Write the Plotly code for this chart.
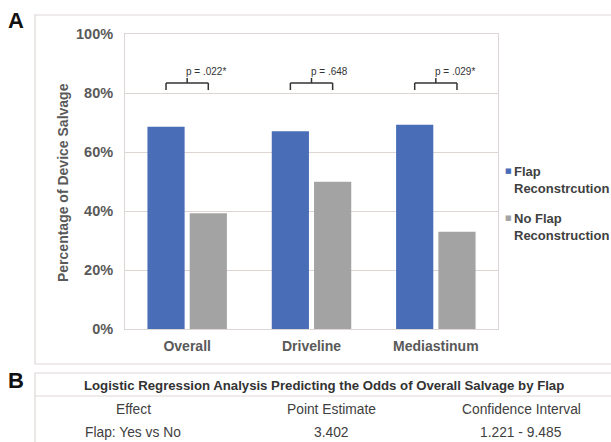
import plotly.graph_objects as go

# ---- data ----
categories = ["Overall", "Driveline", "Mediastinum"]
flap_values = [68.6, 67.0, 69.2]
noflap_values = [39.2, 49.9, 33.0]
p_labels = ["p = .022*", "p = .648", "p = .029*"]
series_names = ["Flap<br>Reconstrcution", "No Flap<br>Reconstruction"]
y_ticks = [0, 20, 40, 60, 80, 100]
table_title = "Logistic Regression Analysis Predicting the Odds of Overall Salvage by Flap"
table_header = ["Effect", "Point Estimate", "Confidence Interval"]
table_row = ["Flap: Yes vs No", "3.402", "1.221 - 9.485"]

# ---- layout helpers (pixel -> paper) ----
W, H = 611, 442
L, R, T, B = 125, 498, 34, 329


def xp(px):
    return (px - L) / (R - L)


def yp(py):
    return (B - py) / (B - T)


FONT = "Liberation Sans, Arial, sans-serif"
BLUE = "#4a6db8"
GRAY = "#a3a3a3"
TXT = "#595959"

fig = go.Figure()
fig.add_trace(go.Bar(x=categories, y=flap_values, name="Flap Reconstrcution",
                     marker=dict(color=BLUE, line=dict(width=0)), showlegend=False))
fig.add_trace(go.Bar(x=categories, y=noflap_values, name="No Flap Reconstruction",
                     marker=dict(color=GRAY, line=dict(width=0)), showlegend=False))

shapes = []
annotations = []

# brackets + p-values
off = 0.17
y_h, y_leg, y_top, y_txt = 83.4, 81.0, 85.1, 87.3
for i, lab in enumerate(p_labels):
    ln = dict(color="#333333", width=1.5)
    shapes.append(dict(type="line", xref="x", yref="y", x0=i - off, x1=i + off, y0=y_h, y1=y_h, line=ln))
    shapes.append(dict(type="line", xref="x", yref="y", x0=i - off, x1=i - off, y0=y_h, y1=y_leg, line=ln))
    shapes.append(dict(type="line", xref="x", yref="y", x0=i + off, x1=i + off, y0=y_h, y1=y_leg, line=ln))
    shapes.append(dict(type="line", xref="x", yref="y", x0=i, x1=i, y0=y_h, y1=y_top, line=ln))
    annotations.append(dict(xref="x", yref="y", x=i, y=y_txt, text=lab, showarrow=False,
                            xanchor="left", yanchor="middle", xshift=-3,
                            font=dict(family=FONT, size=10, color="#333333")))

# panel boxes
box_col = "#ddd8d5"
shapes.append(dict(type="rect", xref="paper", yref="paper", x0=xp(35), x1=xp(650),
                   y0=yp(364), y1=yp(15), line=dict(color=box_col, width=1.2), layer="below"))
shapes.append(dict(type="rect", xref="paper", yref="paper", x0=xp(35), x1=xp(650),
                   y0=yp(470), y1=yp(373), line=dict(color=box_col, width=1.2), layer="below"))
shapes.append(dict(type="line", xref="paper", yref="paper", x0=xp(35), x1=xp(650),
                   y0=yp(396), y1=yp(396), line=dict(color=box_col, width=1.2)))

# panel letters
annotations.append(dict(xref="paper", yref="paper", x=xp(16), y=yp(20), text="<b>A</b>",
                        xanchor="center", yanchor="middle",
                        showarrow=False, font=dict(family=FONT, size=22, color="#111111")))
annotations.append(dict(xref="paper", yref="paper", x=xp(16), y=yp(380), text="<b>B</b>",
                        xanchor="center", yanchor="middle",
                        showarrow=False, font=dict(family=FONT, size=22, color="#111111")))

# y-axis title
annotations.append(dict(xref="paper", yref="paper", x=xp(63), y=yp(183),
                        xanchor="center", yanchor="middle",
                        text="<b>Percentage of Device Salvage</b>", textangle=-90, showarrow=False,
                        font=dict(family=FONT, size=14, color=TXT)))

# legend (manual)
for name, col, py in [(series_names[0], BLUE, 170), (series_names[1], GRAY, 217)]:
    annotations.append(dict(xref="paper", yref="paper", x=xp(508), y=yp(py + 1), text="■",
                            showarrow=False, xanchor="center", yanchor="middle",
                            font=dict(family="DejaVu Sans", size=7, color=col)))
    annotations.append(dict(xref="paper", yref="paper", x=xp(512), y=yp(py - 8),
                            text="<b>" + name + "</b>", showarrow=False, xanchor="left",
                            yanchor="top", align="left",
                            font=dict(family=FONT, size=13, color="#404040")))

# table (panel B)
annotations.append(dict(xref="paper", yref="paper", x=xp(324), y=yp(385),
                        xanchor="center", yanchor="middle",
                        text="<b>" + table_title + "</b>", showarrow=False,
                        font=dict(family=FONT, size=13.2, color="#333333")))
col_x = [133, 331, 521]
for cx, h, r in zip(col_x, table_header, table_row):
    annotations.append(dict(xref="paper", yref="paper", x=xp(cx), y=yp(410), text=h,
                            xanchor="center", yanchor="middle",
                            showarrow=False, font=dict(family=FONT, size=13.8, color="#404040")))
    annotations.append(dict(xref="paper", yref="paper", x=xp(cx), y=yp(432), text=r,
                            xanchor="center", yanchor="middle",
                            showarrow=False, font=dict(family=FONT, size=13.8, color="#404040")))

fig.update_layout(
    width=W, height=H,
    margin=dict(l=L, r=W - R, t=T, b=H - B),
    paper_bgcolor="white", plot_bgcolor="white",
    barmode="group", bargap=0.32, bargroupgap=0.12,
    showlegend=False,
    shapes=shapes, annotations=annotations,
    xaxis=dict(showgrid=False, showline=True, mirror=True, linecolor="#dcd7d4", linewidth=1,
               tickfont=dict(family=FONT, size=14, color=TXT, weight="bold"),
               ticks="outside", ticklen=4, tickcolor="rgba(0,0,0,0)", fixedrange=True),
    yaxis=dict(range=[0, 100], tickvals=y_ticks, ticktext=[f"<b>{v}%</b>" for v in y_ticks],
               showgrid=True, gridcolor="#dcd5d2", gridwidth=1, zeroline=False,
               showline=True, mirror=True, linecolor="#dcd7d4", linewidth=1,
               tickfont=dict(family=FONT, size=14.5, color=TXT),
               ticks="outside", ticklen=8, tickcolor="rgba(0,0,0,0)", fixedrange=True),
)

fig.write_html("out.html", config={"displayModeBar": False},
               post_script="document.body.style.margin='0';document.body.style.overflow='hidden';")
